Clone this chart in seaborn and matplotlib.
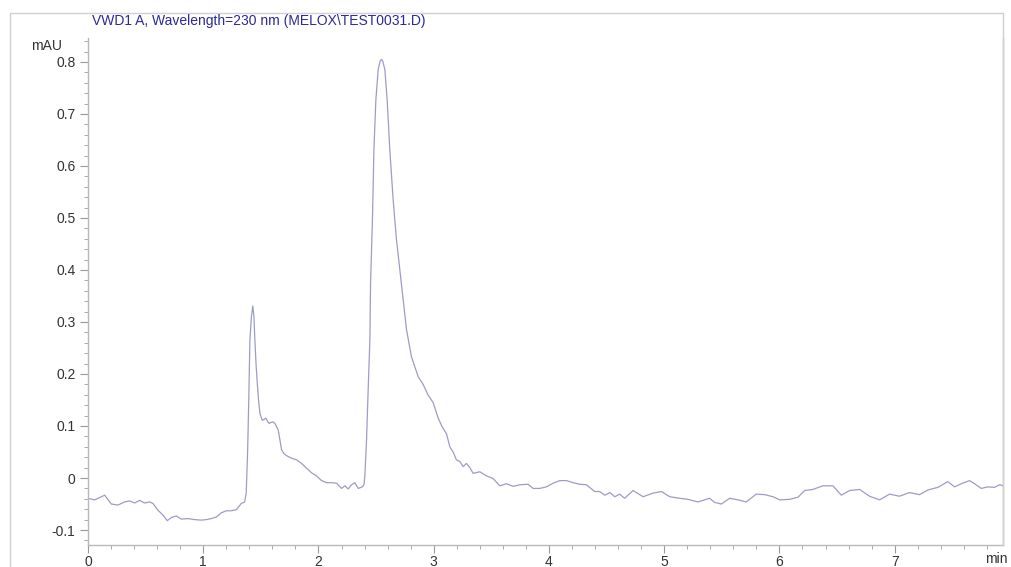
import matplotlib
matplotlib.use("Agg")
import matplotlib.pyplot as plt
from matplotlib.lines import Line2D
from matplotlib.ticker import MultipleLocator
import seaborn as sns
import pandas as pd

time_min = [
    0.000, 0.058, 0.116, 0.145, 0.202, 0.260, 0.318, 0.360, 0.405, 0.448,
    0.490, 0.535, 0.564, 0.607, 0.650, 0.688, 0.723, 0.766, 0.810, 0.867,
    0.925, 0.983, 1.026, 1.070, 1.113, 1.156, 1.200, 1.243, 1.287, 1.330,
    1.359, 1.373, 1.385, 1.395, 1.405, 1.418, 1.430, 1.440, 1.448, 1.458,
    1.469, 1.480, 1.492, 1.512, 1.530, 1.544, 1.560, 1.573, 1.590, 1.605,
    1.622, 1.651, 1.680, 1.700, 1.723, 1.766, 1.810, 1.853, 1.897, 1.940,
    1.983, 2.027, 2.070, 2.113, 2.157, 2.200, 2.229, 2.258, 2.287, 2.316,
    2.345, 2.382, 2.395, 2.402, 2.417, 2.431, 2.446, 2.452, 2.469, 2.481,
    2.498, 2.518, 2.535, 2.547, 2.560, 2.576, 2.596, 2.619, 2.648, 2.677,
    2.706, 2.735, 2.764, 2.807, 2.865, 2.908, 2.950, 2.995, 3.039, 3.070,
    3.111, 3.140, 3.168, 3.197, 3.226, 3.255, 3.284, 3.313, 3.342, 3.400,
    3.458, 3.516, 3.573, 3.631, 3.690, 3.747, 3.819, 3.863, 3.920, 3.978,
    4.036, 4.094, 4.152, 4.209, 4.267, 4.325, 4.397, 4.440, 4.484, 4.530,
    4.571, 4.613, 4.657, 4.730, 4.817, 4.903, 4.976, 5.048, 5.134, 5.207,
    5.293, 5.394, 5.438, 5.496, 5.568, 5.640, 5.712, 5.799, 5.872, 5.944,
    6.002, 6.088, 6.161, 6.219, 6.290, 6.377, 6.464, 6.537, 6.609, 6.696,
    6.782, 6.869, 6.956, 7.042, 7.129, 7.216, 7.288, 7.375, 7.461, 7.520,
    7.578, 7.650, 7.693, 7.751, 7.809, 7.866, 7.910, 7.940,
]
signal_mau = [
    -0.039, -0.042, -0.036, -0.033, -0.050, -0.052, -0.046, -0.044, -0.048, -0.043,
    -0.048, -0.046, -0.049, -0.062, -0.071, -0.082, -0.076, -0.073, -0.079, -0.078,
    -0.080, -0.081, -0.080, -0.078, -0.075, -0.067, -0.063, -0.063, -0.061, -0.049,
    -0.046, -0.029, 0.050, 0.150, 0.265, 0.310, 0.331, 0.310, 0.265, 0.220,
    0.182, 0.150, 0.124, 0.111, 0.113, 0.115, 0.108, 0.105, 0.107, 0.108,
    0.105, 0.092, 0.054, 0.047, 0.043, 0.038, 0.035, 0.028, 0.019, 0.010,
    0.004, -0.005, -0.009, -0.009, -0.010, -0.020, -0.015, -0.021, -0.013, -0.009,
    -0.020, -0.017, -0.012, 0.003, 0.073, 0.169, 0.265, 0.374, 0.503, 0.631,
    0.727, 0.785, 0.802, 0.805, 0.800, 0.785, 0.727, 0.631, 0.535, 0.458,
    0.400, 0.342, 0.285, 0.233, 0.195, 0.180, 0.160, 0.145, 0.115, 0.100,
    0.085, 0.060, 0.050, 0.035, 0.032, 0.022, 0.028, 0.020, 0.009, 0.012,
    0.004, -0.001, -0.015, -0.011, -0.016, -0.013, -0.012, -0.020, -0.020, -0.017,
    -0.010, -0.005, -0.005, -0.009, -0.012, -0.013, -0.026, -0.026, -0.033, -0.028,
    -0.036, -0.031, -0.039, -0.024, -0.036, -0.029, -0.026, -0.036, -0.039, -0.041,
    -0.046, -0.039, -0.047, -0.050, -0.039, -0.042, -0.046, -0.031, -0.032, -0.036,
    -0.042, -0.041, -0.037, -0.024, -0.022, -0.015, -0.015, -0.033, -0.024, -0.022,
    -0.035, -0.042, -0.031, -0.035, -0.028, -0.032, -0.023, -0.018, -0.007, -0.017,
    -0.011, -0.005, -0.011, -0.020, -0.017, -0.018, -0.013, -0.015,
]
x_ticks = [0, 1, 2, 3, 4, 5, 6, 7]
y_ticks = [-0.1, 0, 0.1, 0.2, 0.3, 0.4, 0.5, 0.6, 0.7, 0.8]
y_tick_labels = ["-0.1", "0", "0.1", "0.2", "0.3", "0.4", "0.5", "0.6", "0.7", "0.8"]
title_text = "VWD1 A, Wavelength=230 nm (MELOX\\TEST0031.D)"

sns.set_style("white")
plt.rcParams["font.family"] = ["Liberation Sans", "DejaVu Sans"]

W, H = 1011, 567
fig = plt.figure(figsize=(W / 100, H / 100), dpi=100)
ax = fig.add_axes([88 / W, 1 - 545 / H, (1003 - 88) / W, (545 - 38) / H])

df = pd.DataFrame({"t": time_min, "v": signal_mau})
sns.lineplot(data=df, x="t", y="v", ax=ax, color="#9c9cc8", linewidth=0.9, sort=False)

ax.set_xlim(0, 7.94)
ax.set_ylim(-0.1288, 0.846)
ax.set_xlabel("")
ax.set_ylabel("")

ax.set_xticks(x_ticks)
ax.set_xticklabels([str(v) for v in x_ticks])
ax.set_yticks(y_ticks)
ax.set_yticklabels(y_tick_labels)
ax.xaxis.set_minor_locator(MultipleLocator(0.2))
ax.yaxis.set_minor_locator(MultipleLocator(0.02))

spine_col = "#b8b8b8"
ax.spines["top"].set_visible(False)
for s in ["left", "bottom", "right"]:
    ax.spines[s].set_visible(True)
    ax.spines[s].set_color(spine_col)
    ax.spines[s].set_linewidth(1.0)

ax.tick_params(axis="x", which="both", bottom=True, top=False)
ax.tick_params(axis="y", which="both", left=True, right=False)
ax.tick_params(axis="both", which="major", direction="out", length=6, width=0.8,
               color="#999999", labelsize=10, labelcolor="#333333")
ax.tick_params(axis="x", which="major", pad=1)
ax.tick_params(axis="y", which="major", pad=3)
ax.tick_params(axis="both", which="minor", direction="out", length=3, width=0.7,
               color="#aaaaaa")

# outer frame lines
frame_col = "#d0d0d0"
fig.add_artist(Line2D([10 / W, 10 / W], [0, 1 - 13 / H], transform=fig.transFigure,
                      color=frame_col, linewidth=1.0))
fig.add_artist(Line2D([10 / W, 1003 / W], [1 - 13 / H, 1 - 13 / H], transform=fig.transFigure,
                      color=frame_col, linewidth=1.0))
fig.add_artist(Line2D([1003 / W, 1003 / W], [1 - 545 / H, 1 - 13 / H], transform=fig.transFigure,
                      color=frame_col, linewidth=1.0))

fig.text(92 / W, 1 - 21 / H, title_text, ha="left", va="center", fontsize=10,
         color="#2a2a9a")
fig.text(62 / W, 1 - 46 / H, "mAU", ha="right", va="center", fontsize=10, color="#333333")
fig.text(1008 / W, 1 - 559 / H, "min", ha="right", va="center", fontsize=10, color="#333333")

fig.savefig("out.png", dpi=100, facecolor="white")
